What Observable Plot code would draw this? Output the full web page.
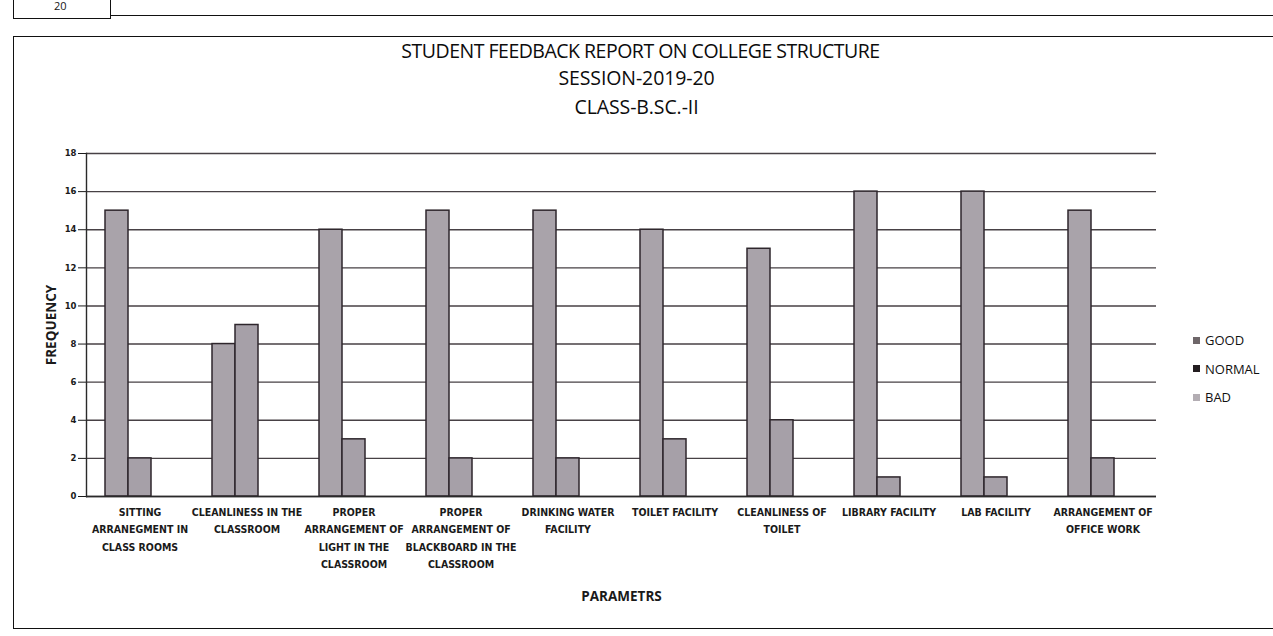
<!DOCTYPE html>
<html>
<head>
<meta charset="utf-8">
<script src="https://cdn.jsdelivr.net/npm/d3@7"></script>
<script src="https://cdn.jsdelivr.net/npm/@observablehq/plot@0.6"></script>
<style>
  html, body { margin: 0; padding: 0; background: #fff; }
  body { width: 1273px; height: 636px; overflow: hidden; position: relative; font-family: "Open Sans", "Noto Sans", sans-serif; color: #161616; }
  .topcell { position: absolute; left: 13px; top: -10px; width: 96px; height: 27px; border: 1.5px solid #111; }
  .topcell span { position: absolute; left: 40px; top: 9px; font-size: 11px; line-height: 12px; }
  .topline { position: absolute; left: 110px; top: 15px; width: 1200px; border-top: 1.5px solid #111; }
  .box { position: absolute; left: 13px; top: 36px; width: 1300px; height: 591px; border: 1.6px solid #111; }
  .t { position: absolute; left: 0; width: 1273px; text-align: center; color: #0c0c0c; font-size: 19.5px; line-height: 20px; font-weight: 500; }
  .t1 { top: 41px; letter-spacing: -0.5px; padding-left: 4px; }
  .t2 { top: 68px; letter-spacing: -0.1px; }
  .t3 { top: 97px; letter-spacing: -0.1px; }
  #chart { position: absolute; left: 0; top: 140px; }
  .legend { position: absolute; left: 1193px; top: 326px; font-size: 13px; color: #111; }
  .legend div { height: 28.5px; display: flex; align-items: center; }
  .legend i { display: inline-block; width: 7px; height: 7px; margin-right: 5px; }
  #chart g[aria-label="y-axis tick label"] { font-weight: bold; font-size: 8.5px; font-family: "DejaVu Sans", sans-serif; }
  #chart g[aria-label="fx-axis tick label"] { font-weight: bold; font-size: 10.5px; font-stretch: 82%; }
  #chart g[aria-label="fx-axis label"], #chart g[aria-label="y-axis label"] { font-weight: bold; font-size: 13.5px; font-family: "Open Sans", sans-serif; font-stretch: 100%; }
</style>
</head>
<body>
<div class="topcell"><span>20</span></div>
<div class="topline"></div>
<div class="box"></div>
<div class="t t1">STUDENT FEEDBACK REPORT ON COLLEGE STRUCTURE</div>
<div class="t t2">SESSION-2019-20</div>
<div class="t t3">CLASS-B.SC.-II</div>
<div id="chart"></div>
<div class="legend" id="legend"></div>
<script>
const categories = [
  "SITTING ARRANEGMENT IN CLASS ROOMS",
  "CLEANLINESS IN THE CLASSROOM",
  "PROPER ARRANGEMENT OF LIGHT IN THE CLASSROOM",
  "PROPER ARRANGEMENT OF BLACKBOARD IN THE CLASSROOM",
  "DRINKING WATER FACILITY",
  "TOILET FACILITY",
  "CLEANLINESS OF TOILET",
  "LIBRARY FACILITY",
  "LAB FACILITY",
  "ARRANGEMENT OF OFFICE WORK"
];
const tickLabels = [
  "SITTING\nARRANEGMENT IN\nCLASS ROOMS",
  "CLEANLINESS IN THE\nCLASSROOM",
  "PROPER\nARRANGEMENT OF\nLIGHT IN THE\nCLASSROOM",
  "PROPER\nARRANGEMENT OF\nBLACKBOARD IN THE\nCLASSROOM",
  "DRINKING WATER\nFACILITY",
  "TOILET FACILITY",
  "CLEANLINESS OF\nTOILET",
  "LIBRARY FACILITY",
  "LAB FACILITY",
  "ARRANGEMENT OF\nOFFICE WORK"
];
const seriesNames = ["GOOD", "NORMAL", "BAD"];
const good   = [15, 8, 14, 15, 15, 14, 13, 16, 16, 15];
const normal = [2, 9, 3, 2, 2, 3, 4, 1, 1, 2];
const bad    = [0, 0, 0, 0, 0, 0, 0, 0, 0, 0];
const yTicks = [0, 2, 4, 6, 8, 10, 12, 14, 16, 18];
const barFills = ["#a9a3aa", "#a6a0a8", "#b9b4ba"];
const legendSwatches = ["#6e6669", "#231d20", "#b3adb3"];

const rows = categories.flatMap((c, i) => [
  {cat: c, series: "GOOD", value: good[i]},
  {cat: c, series: "NORMAL", value: normal[i]},
  {cat: c, series: "BAD", value: bad[i]}
]);

const chart = Plot.plot({
  width: 1273,
  height: 470,
  marginLeft: 82,
  marginRight: 114,
  marginTop: 13,
  marginBottom: 114,
  style: {fontFamily: "'Liberation Sans Narrow', 'DejaVu Sans Condensed', 'Open Sans', sans-serif", color: "#1a1a1a", background: "transparent"},
  fx: {
    domain: categories, padding: 0, label: "PARAMETRS",
    tickFormat: c => tickLabels[categories.indexOf(c)],
    tickSize: 0, tickPadding: 12, labelAnchor: "center", labelOffset: 104
  },
  x: {domain: seriesNames, paddingInner: 0, paddingOuter: 0.81, axis: null},
  y: {
    domain: [0, 18], ticks: yTicks, tickSize: 8, tickPadding: 2,
    label: "FREQUENCY", labelAnchor: "center", labelOffset: 40, labelArrow: "none"
  },
  color: {domain: seriesNames, range: barFills},
  marks: [
    Plot.gridY(yTicks, {stroke: "#474145", strokeOpacity: 1, strokeWidth: 1.4}),
    Plot.barY(rows, {fx: "cat", x: "series", y: "value", fill: "series", stroke: "#2e262c", strokeWidth: 1.5}),
    Plot.ruleY([0], {stroke: "#2a2a2a", strokeWidth: 1.5}),
    Plot.frame({anchor: "left", facetAnchor: "left", stroke: "#2a2a2a", strokeWidth: 1.4})
  ]
});
chart.querySelectorAll('g[aria-label="fx-axis tick label"] text').forEach(t => {
  t.querySelectorAll("tspan").forEach((ts, k) => { if (k > 0) ts.setAttribute("dy", "1.66em"); });
});
document.getElementById("chart").appendChild(chart);

const legend = document.getElementById("legend");
seriesNames.forEach((s, i) => {
  const row = document.createElement("div");
  const sw = document.createElement("i");
  sw.style.background = legendSwatches[i];
  row.appendChild(sw);
  row.appendChild(document.createTextNode(s));
  legend.appendChild(row);
});
</script>
</body>
</html>
